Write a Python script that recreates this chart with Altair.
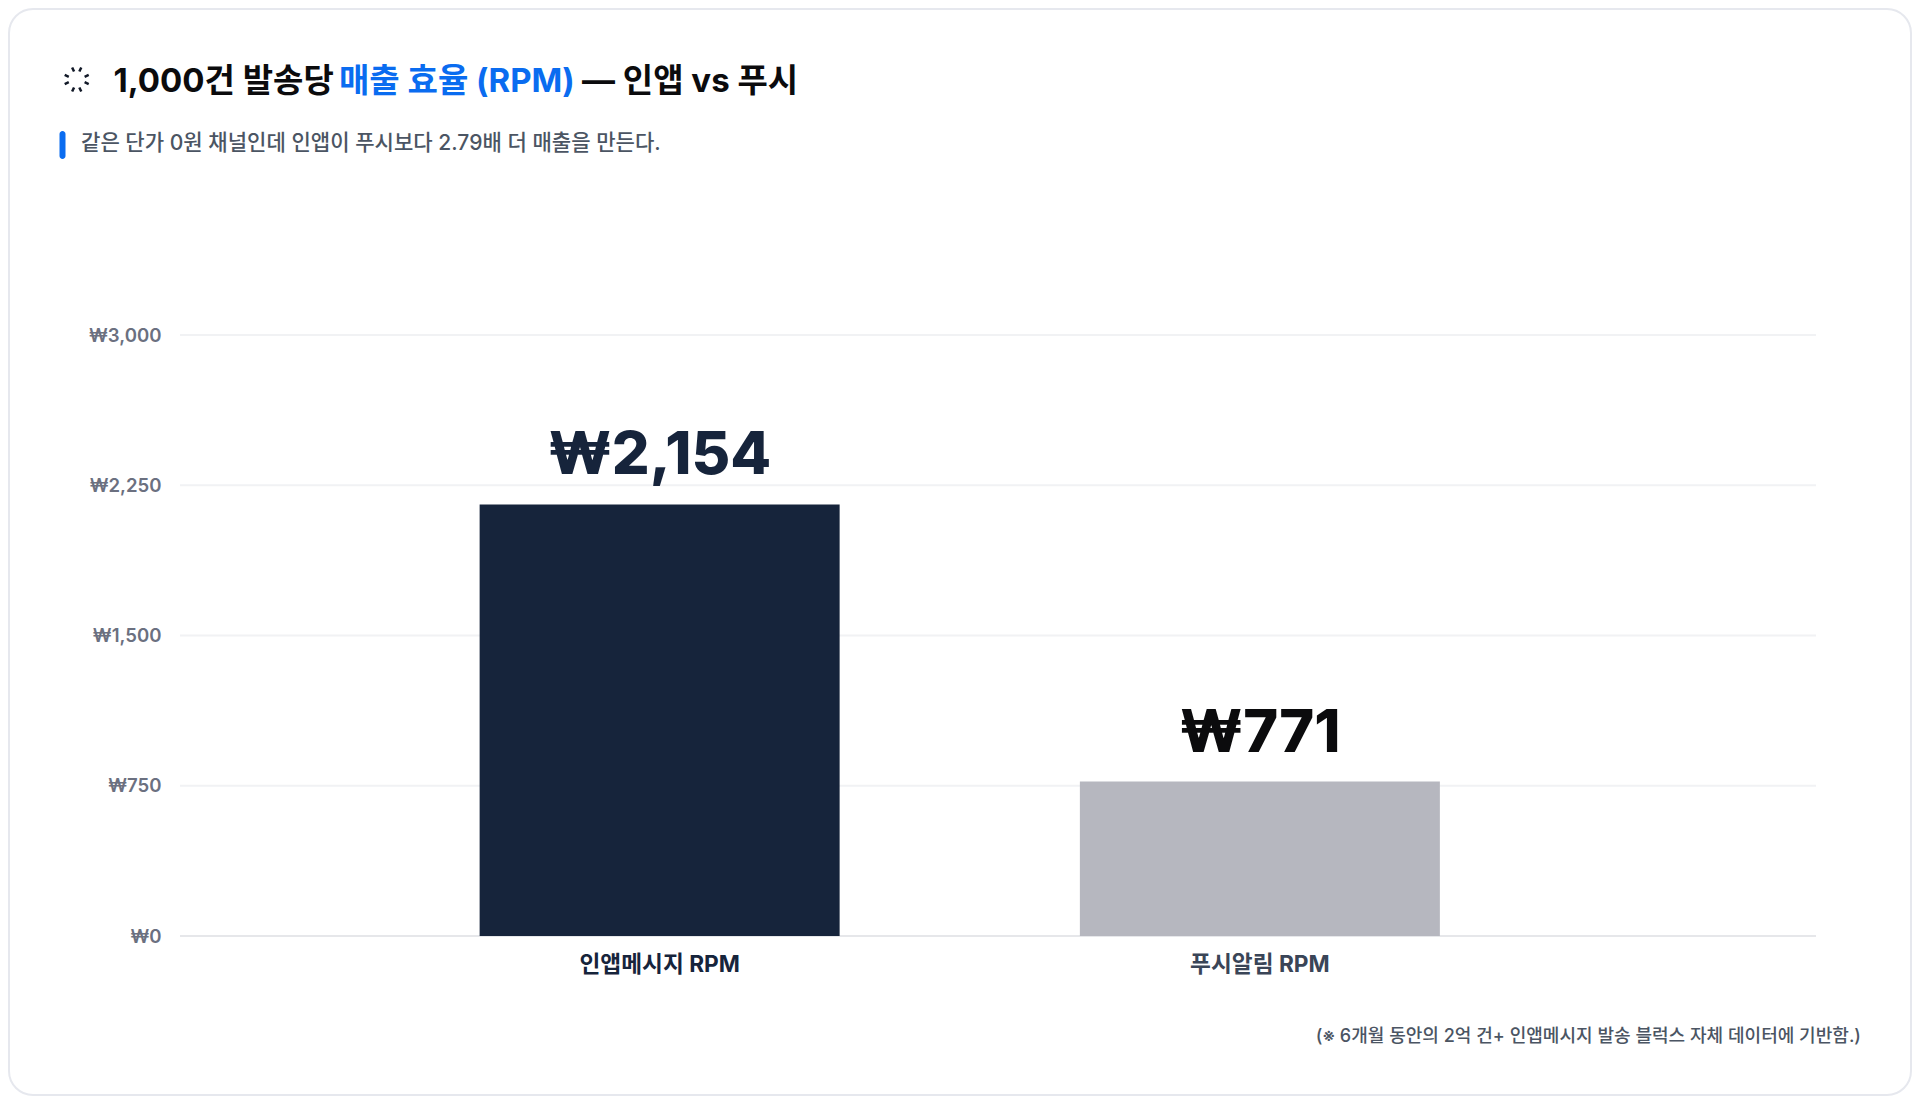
import altair as alt
import pandas as pd

categories = ["인앱메시지 RPM", "푸시알림 RPM"]
values = [2154, 771]
bar_colors = ["#16243b", "#b6b7bf"]
label_colors = ["#16243b", "#0b0b0d"]
value_labels = ["₩2,154", "₩771"]
y_ticks = [0, 750, 1500, 2250, 3000]
grid_colors = ["#e6e7ea", "#f1f2f4", "#f1f2f4", "#f1f2f4", "#f1f2f4"]
title_parts = ["1,000건 발송당", "매출 효율 (RPM)", "— 인앱 vs 푸시"]
subtitle = ["같은 단가 0원 채널인데 인앱이 푸시보다 2.79배 더 매출을 만든다."]
footnote = ["(※ 6개월 동안의 2억 건+ 인앱메시지 발송 블럭스 자체 데이터에 기반함.)"]

FONT = "Inter, Noto Sans CJK KR, sans-serif"
LEFT, TOP = 180, 335
PLOT_W, PLOT_H = 1636, 601


def X(px):
    return alt.value(px - LEFT)


def Y(py):
    return alt.value(py - TOP)


df = pd.DataFrame({"cat": categories, "val": values, "color": bar_colors,
                   "lab": value_labels, "lab_color": label_colors})
grid_df = pd.DataFrame({"tick": y_ticks, "gc": grid_colors})

x_enc = alt.X("cat:N", sort=categories, title=None,
              scale=alt.Scale(domain=categories, range=[179.5, 1380], paddingInner=0.4, paddingOuter=0.2),
              axis=alt.Axis(labelAngle=0, labelFont=FONT, labelFontSize=22.7, labelFontWeight=700,
                            labelColor=alt.expr("datum.index === 0 ? '#16243b' : '#3a4557'"),
                            labelPadding=17.5, ticks=False, domain=False, grid=False))
y_scale = alt.Scale(domain=[0, 3000], nice=False)
y_axis = alt.Axis(values=y_ticks, labelExpr="'₩' + format(datum.value, ',')",
                  labelFont=FONT, labelFontSize=18.6, labelFontWeight=600, labelColor="#6b7080",
                  labelPadding=19, ticks=False, domain=False, grid=False)

grid = alt.Chart(grid_df).mark_rule(strokeWidth=2).encode(
    y=alt.Y("tick:Q", scale=y_scale, title=None, axis=y_axis),
    x=alt.value(0), x2=alt.value(PLOT_W),
    color=alt.Color("gc:N", scale=None, legend=None))

bars = alt.Chart(df).mark_bar(size=360).encode(
    x=x_enc, y=alt.Y("val:Q", title=None, scale=y_scale, axis=y_axis),
    color=alt.Color("color:N", scale=None, legend=None))

bar_labels = alt.Chart(df).mark_text(font=FONT, fontSize=59.5, fontWeight=800, baseline="alphabetic", dy=-30).encode(
    x=alt.X("cat:N", sort=categories), y=alt.Y("val:Q"), text="lab:N",
    color=alt.Color("lab_color:N", scale=None, legend=None))


def text_layer(items, px, py, size, weight, color, align="left"):
    return alt.Chart(pd.DataFrame({"t": items})).mark_text(
        font=FONT, fontSize=size, fontWeight=weight, color=color, align=align, baseline="alphabetic"
    ).encode(x=X(px), y=Y(py), text="t:N")


title_a = text_layer(title_parts[:1], 113.5, 92, 33, 700, "#0b0b0d")
title_b = text_layer(title_parts[1:2], 339, 92, 33, 700, "#0a6cf0")
title_c = text_layer(title_parts[2:], 582, 92, 33, 700, "#0b0b0d")
sub = text_layer(subtitle, 81, 150, 21.07, 500, "#4b5563")
foot = text_layer(footnote, 1861, 1042, 18.05, 500, "#4b5563", align="right")

marker_df = pd.DataFrame({"k": ["marker"]})
marker = alt.Chart(marker_df).mark_rect(color="#0a6cf0", cornerRadius=3).encode(
    x=X(59.5), x2=X(65.5), y=Y(131), y2=Y(159))
card = alt.Chart(marker_df).mark_rect(fill="transparent", stroke="#e6e8ee", strokeWidth=2, cornerRadius=24).encode(
    x=X(9), x2=X(1911), y=Y(9), y2=Y(1095))

ICON = ("M-0.38 -1 L-0.22 -0.66 M0.38 -1 L0.22 -0.66 M1 -0.38 L0.66 -0.22 M1 0.38 L0.66 0.22 "
        "M0.38 1 L0.22 0.66 M-0.38 1 L-0.22 0.66 M-1 0.38 L-0.66 0.22 M-1 -0.38 L-0.66 -0.22")
icon = alt.Chart(marker_df).mark_point(shape=ICON, size=576, stroke="#111827", strokeWidth=2.5,
                                       filled=False, opacity=1).encode(x=X(76.7), y=Y(79.5))

chart = alt.layer(card, grid, bars, bar_labels, title_a, title_b, title_c, sub, foot, marker, icon).properties(
    width=PLOT_W, height=PLOT_H,
    padding={"left": 172, "top": 327, "right": 96, "bottom": 160},
    autosize=alt.AutoSizeParams(type="none"),
    background="#ffffff",
).configure_view(stroke=None)

chart.save("out.html", embed_options={"renderer": "svg", "actions": False})
